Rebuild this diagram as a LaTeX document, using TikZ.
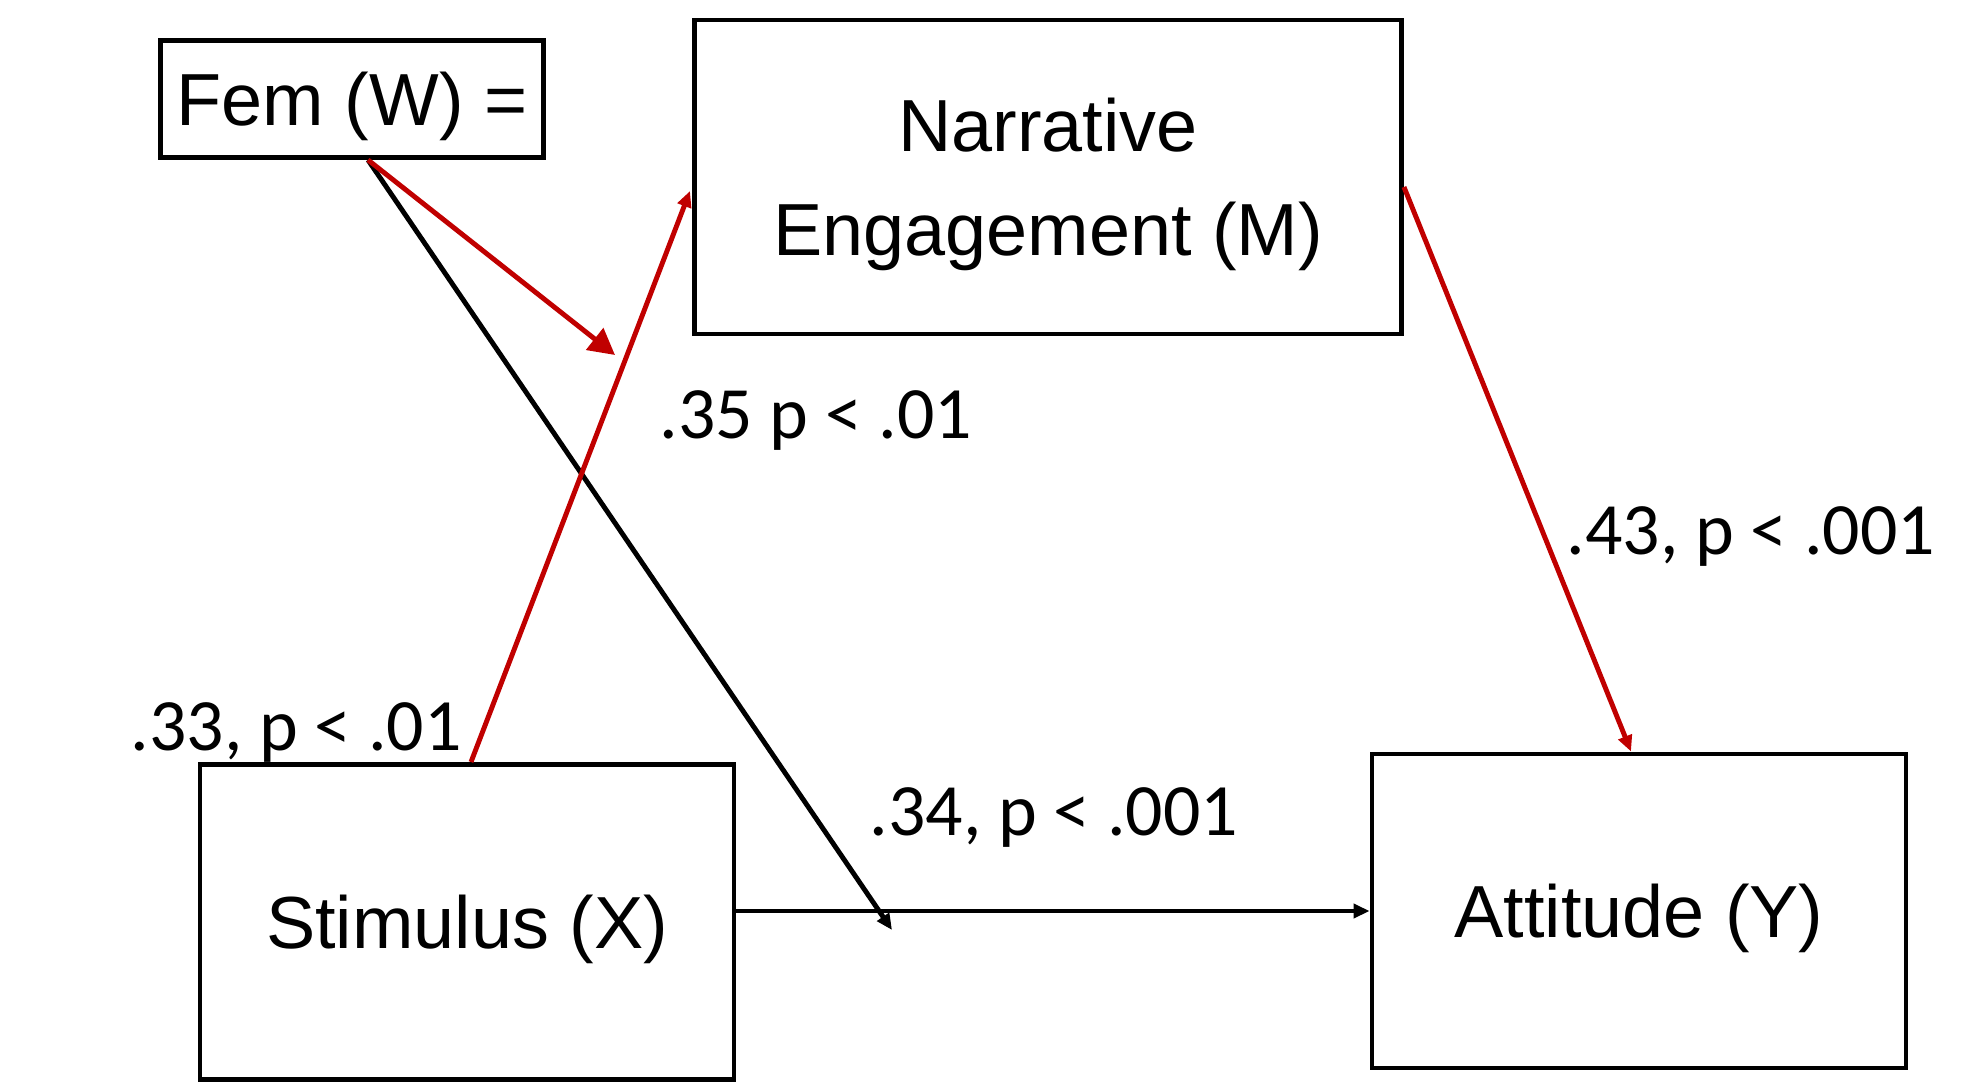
\documentclass[tikz,border=0pt]{standalone}
\usepackage{fontspec}
\setmainfont{Liberation Sans}
\newfontfamily\labelfont{Carlito}
\usepackage{tikz}
\usetikzlibrary{calc,arrows.meta}

\definecolor{pathred}{RGB}{192,0,0}

\tikzset{
  varbox/.style={draw=black,line width=1.4pt,align=center,text depth=0pt,
    font=\fontsize{21}{29.5}\selectfont},
  coef/.style={anchor=base west,inner sep=0pt,font=\labelfont\fontsize{21}{25}\selectfont},
  path/.style={line width=1.4pt,-{Triangle[length=0.16cm,width=0.14cm]}},
}

\begin{document}
\begin{tikzpicture}
			\useasboundingbox (0,0) rectangle (19.75,10.82);
			
			\node[varbox,minimum width=3.83cm,minimum height=1.17cm] (fem) at (3.52,9.83) {Fem (W) =};
			\node[varbox,minimum width=7.07cm,minimum height=3.14cm] (narr) at (10.48,9.05) {Narrative\\Engagement (M)};
			\node[varbox,minimum width=5.34cm,minimum height=3.15cm] (stim) at (4.67,1.60) {Stimulus (X)};
			\node[varbox,minimum width=5.34cm,minimum height=3.14cm] (att) at (16.39,1.71) {Attitude (Y)};
			
			\coordinate (wout) at ($(fem.south)+(0.16,0)$);
			\coordinate (mtip) at (6.90,8.91);
			\coordinate (wtip) at (6.15,7.27);
			\coordinate (dtip) at (8.92,1.52);
			
			% moderation of the direct path
			\draw[path] (wout)--(dtip);
			\draw[path] (stim.east|-att.west)--(att.west);
			
			% indirect path
			\draw[path,pathred] ($(stim.north)+(0.04,0)$)--(mtip);
			\draw[pathred,line width=1.4pt,-{Triangle[length=0.26cm,width=0.27cm]}] (wout)--(wtip);
			\draw[path,pathred] ($(narr.east)+(0,-0.10)$)--($(att.north)+(-0.08,0)$);
			
			\node[coef] (a1) at (6.59,6.43) {.35 p < .01};
			\node[coef] (b1) at (15.66,5.27) {.43, p < .001};
			\node[coef] (a2) at (1.30,3.32) {.33, p < .01};
			\node[coef] (c1) at (8.69,2.47) {.34, p < .001};
		\end{tikzpicture}
\end{document}
